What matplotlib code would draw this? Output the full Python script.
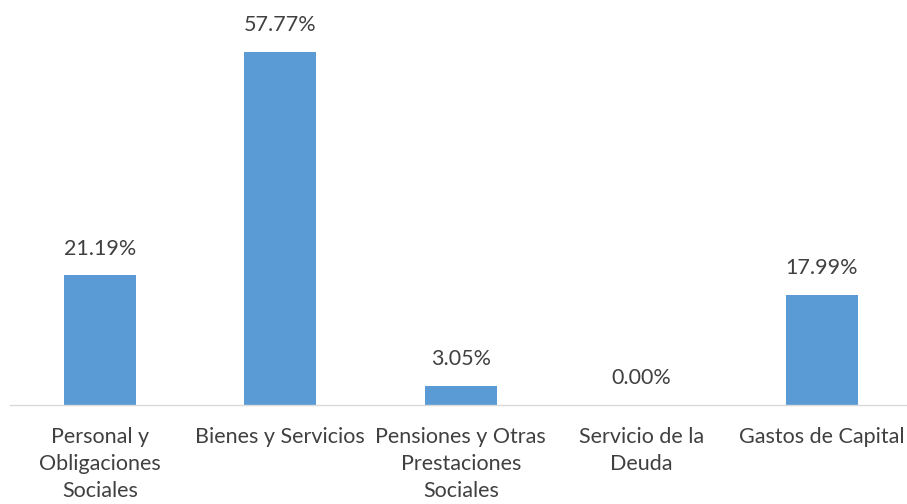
import matplotlib
matplotlib.use('Agg')
import matplotlib.pyplot as plt

#%% Data
categories = [
    'Personal y\nObligaciones\nSociales',
    'Bienes y Servicios',
    'Pensiones y Otras\nPrestaciones\nSociales',
    'Servicio de la\nDeuda',
    'Gastos de Capital',
]
values = [21.19, 57.77, 3.05, 0.00, 17.99]
value_labels = ['21.19%', '57.77%', '3.05%', '0.00%', '17.99%']

#%% Plot
plt.rcParams['font.family'] = ['Lato', 'DejaVu Sans']
W, H = 907, 504
fig = plt.figure(figsize=(W / 100, H / 100), dpi=100)
# axes spans x 9.5..912 px (clipped at right), baseline at y=404.5, 6.10 px per unit
ax = fig.add_axes([9.5 / W, (H - 404.5) / H, 902.5 / W, 366 / H])
x = range(len(categories))
ax.bar(x, values, width=0.4, color='#5B9BD5')
ax.set_xlim(-0.5, len(categories) - 0.5)
ax.set_ylim(0, 366 / 6.102)

for xi, v, lab in zip(x, values, value_labels):
    ax.annotate(lab, (xi, v), xytext=(0, 12), textcoords='offset points',
                ha='center', va='bottom', fontsize=15.5, color='#404040')

ax.set_xticks(list(x))
ax.set_xticklabels(categories, fontsize=15.5, color='#404040', linespacing=1.45, va='top')
ax.tick_params(axis='x', length=0, pad=16)
ax.set_yticks([])
for s in ['top', 'right', 'left']:
    ax.spines[s].set_visible(False)
ax.spines['bottom'].set_color('#D9D9D9')
ax.spines['bottom'].set_linewidth(1.0)

fig.savefig('out.png', dpi=100)
